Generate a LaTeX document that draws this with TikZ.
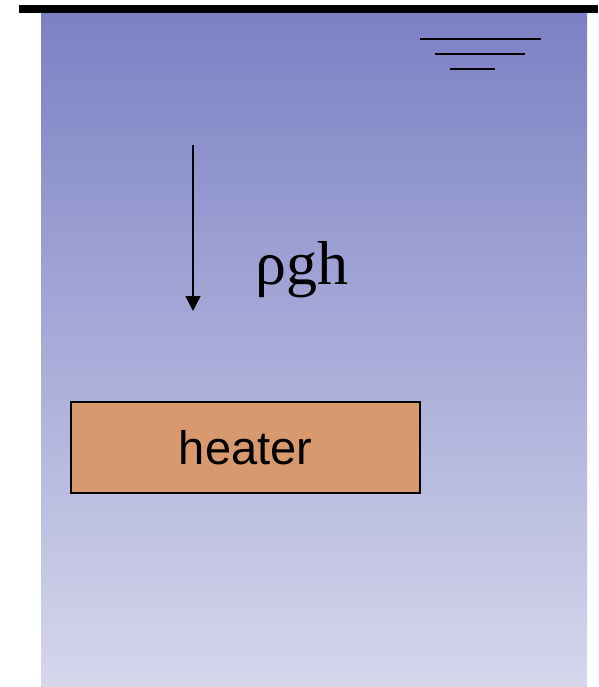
\documentclass[tikz,border=0pt]{standalone}
\usepackage{fontspec}
\setmainfont{Liberation Serif}
\newfontfamily\heatfont{Liberation Sans}
\definecolor{watertop}{RGB}{123,129,196}
\definecolor{waterbot}{RGB}{214,214,236}
\definecolor{heaterfill}{RGB}{217,153,110}
\tikzset{
  levelline/.style={line width=2pt, black},
  heaterbox/.style={draw=black, line width=1.6pt, fill=heaterfill, minimum width=349pt, minimum height=91pt, inner sep=0pt, font=\heatfont\fontsize{47}{50}\selectfont},
  pressarrow/.style={line width=1.6pt, -{Triangle[length=15pt,width=15pt]}},
}
\usetikzlibrary{arrows.meta}
\begin{document}
\begin{tikzpicture}[x=1pt,y=-1pt]
\useasboundingbox (0,0) rectangle (598,687);
\shade[top color=watertop, bottom color=waterbot] (41,13) rectangle (587,687);
\fill[black] (19,5) rectangle (598,13);
\draw[levelline] (420,39) -- (541,39);
\draw[levelline] (435,54) -- (525,54);
\draw[levelline] (450,69) -- (495,69);
\coordinate (atop) at (193,145);
\coordinate (abot) at (193,311);
\draw[pressarrow] (atop) -- (abot);
\node[anchor=base west, inner sep=0pt, font=\fontsize{62}{66}\selectfont] (rgh) at (255,284) {ρgh};
\node[heaterbox] (heater) at (245.5,447.5) {\raisebox{1pt}{heater}};
\end{tikzpicture}
\end{document}
